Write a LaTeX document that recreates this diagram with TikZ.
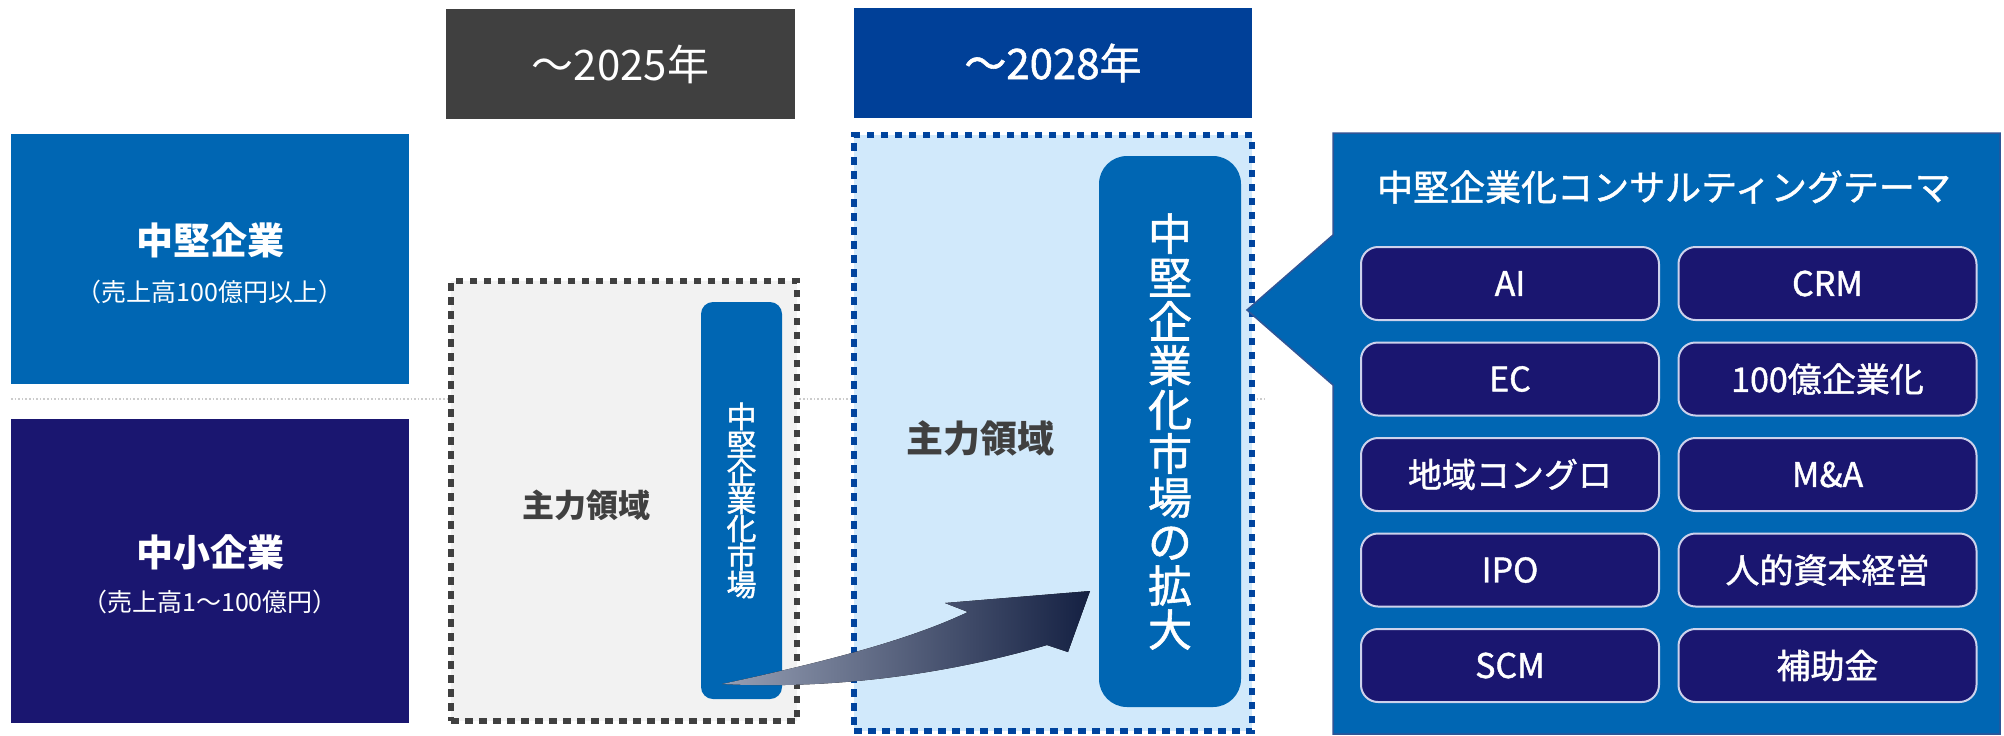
\documentclass[tikz,border=0pt]{standalone}
\usepackage{fontspec}
\setmainfont{Noto Sans CJK JP}
\newfontfamily\semibold{Noto Sans CJK JP}[FakeBold=1.3]
\usepackage{xcolor}
\usepackage{tikz}
\usetikzlibrary{calc}
\definecolor{midblue}{RGB}{0,102,179}
\definecolor{navy}{RGB}{26,22,112}
\definecolor{yearblue}{RGB}{0,64,152}
\definecolor{charcoal}{RGB}{64,64,64}
\definecolor{panelgray}{RGB}{242,242,242}
\definecolor{panelblue}{RGB}{209,233,251}
\definecolor{dotblue}{RGB}{0,68,158}
\definecolor{edgeblue}{RGB}{47,85,151}
\definecolor{boxedge}{RGB}{205,210,236}
\definecolor{arrowlight}{RGB}{150,159,180}
\definecolor{arrowmid}{RGB}{34,46,80}
\definecolor{arrowdark}{RGB}{20,32,66}

\begin{document}
\begin{tikzpicture}[x=0.5pt,y=-0.5pt,
    every node/.style={inner sep=0pt,outer sep=0pt},
    yearbox/.style={minimum height=55pt,text=white,font=\fontsize{21}{25}\selectfont},
    sizebox/.style={minimum width=199pt},
    sizename/.style={text=white,font=\fontsize{18.5}{22}\selectfont\bfseries},
    sizenote/.style={text=white,font=\fontsize{12.5}{15}\selectfont},
    panel/.style={line width=2.75pt,dash pattern=on 3.75pt off 3.25pt},
    focus/.style={text=charcoal},
    bar/.style={fill=midblue,text=white,align=center},
    themebox/.style={fill=navy,draw=boxedge,line width=1pt,rounded corners=8.5pt,
        minimum width=149pt,minimum height=36.5pt,text=white,font=\fontsize{17}{20}\selectfont\semibold}]
    \useasboundingbox (0,0) rectangle (2004,735);
    % band divider
    \draw[gray!40,line width=0.8pt,densely dotted] (11,399)--(1265,399);
    % years
    \node[yearbox,fill=charcoal,minimum width=174.5pt] (y2025) at (620.5,64) {～2025年};
    \node[yearbox,fill=yearblue,minimum width=199pt,font=\fontsize{21}{25}\selectfont\semibold] (y2028) at (1053,63) {～2028年};
    % company size bands
    \node[sizebox,fill=midblue,minimum height=125pt] (mid) at (210,259) {};
    \node[sizename] (midname) at (210,240) {中堅企業};
    \node[sizenote] (midnote) at (210,292) {（売上高100億円以上）};
    \node[sizebox,fill=navy,minimum height=152pt] (small) at (210,571) {};
    \node[sizename] (smallname) at (210,552) {中小企業};
    \node[sizenote] (smallnote) at (210,602) {（売上高1～100億円）};
    % focus areas
    \node[panel,draw=charcoal,fill=panelgray,minimum width=173pt,minimum height=220pt] (area25) at (624,501) {};
    \node[panel,draw=dotblue,fill=panelblue,minimum width=199pt,minimum height=298pt] (area28) at (1053,433) {};
    \node[focus,font=\fontsize{16}{19}\selectfont\bfseries] (core25) at (586,505) {主力領域};
    \node[focus,font=\fontsize{18.5}{22}\selectfont\bfseries] (core28) at (980,438) {主力領域};
    \node[bar,minimum width=40.5pt,minimum height=198.5pt,rounded corners=6pt,font=\fontsize{15}{14}\selectfont\semibold] (mkt25) at (741.5,500.5) {中\\堅\\企\\業\\化\\市\\場};
    \node[bar,minimum width=71pt,minimum height=275.5pt,rounded corners=14pt,font=\fontsize{22}{22}\selectfont\semibold] (mkt28) at (1170,431.5) {中\\堅\\企\\業\\化\\市\\場\\の\\拡\\大};
    % growth arrow
    \coordinate (tail) at (722,684);
    \coordinate (tip) at (1090,591);
    \fill[left color=arrowlight,middle color=arrowmid,right color=arrowdark] (tail) .. controls (815,664) and (905,642) .. (968,612)--(945,603)--(tip)--(1068,652)--(1047,645) .. controls (955,672) and (840,690) .. (tail)--cycle;
    % consulting themes
    \coordinate (pointer) at (1247,310);
    \filldraw[fill=midblue,draw=edgeblue,line width=0.75pt] (1333,133)--(2000,133)--(2000,734)--(1333,734)--(1333,385)--(pointer)--(1333,235)--cycle;
    \node[text=white,font=\fontsize{18}{22}\selectfont\semibold] (theme) at (1664,187) {中堅企業化コンサルティングテーマ};
    \foreach \txt [count=\r] in {AI,EC,地域コングロ,IPO,SCM}
        \node[themebox] (left\r) at (1510,188+95.5*\r) {\txt};
    \foreach \txt [count=\r] in {CRM,100億企業化,M\&A,人的資本経営,補助金}
        \node[themebox] (right\r) at (1827.5,188+95.5*\r) {\txt};
\end{tikzpicture}
\end{document}
